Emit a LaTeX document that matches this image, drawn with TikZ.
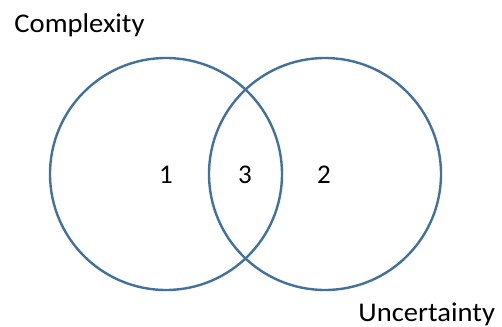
\documentclass[tikz,border=0pt]{standalone}
\usepackage{fontspec}
\setmainfont{Carlito}
\usetikzlibrary{positioning}
\definecolor{ringblue}{RGB}{65,113,156}

\tikzset{
  ring/.style={circle, draw=ringblue, line width=1.2pt, minimum size=116pt, inner sep=0pt},
  lbl/.style={font=\fontsize{13.5}{16}\selectfont, inner sep=0pt}
}

\begin{document}
\begin{tikzpicture}[x=0.5pt,y=-0.5pt]

		\useasboundingbox (0,0) rectangle (502,326);

		% The two sets
		\node[ring] (cplx) at (166,174) {};
		\node[ring] (uncert) at (325,174) {};

		% Region numbers
		\node[lbl, anchor=base] (one) at (166,183) {1};
		\node[lbl, anchor=base] (three) at (245,183) {3};
		\node[lbl, anchor=base] (two) at (324,183) {2};

		% Set names
		\node[lbl, anchor=base west, xscale=1.06] (cname) at (14,33) {Complexity};
		\node[lbl, anchor=base west, xscale=1.06] (uname) at (358,321) {Uncertainty};

	\end{tikzpicture}
\end{document}
